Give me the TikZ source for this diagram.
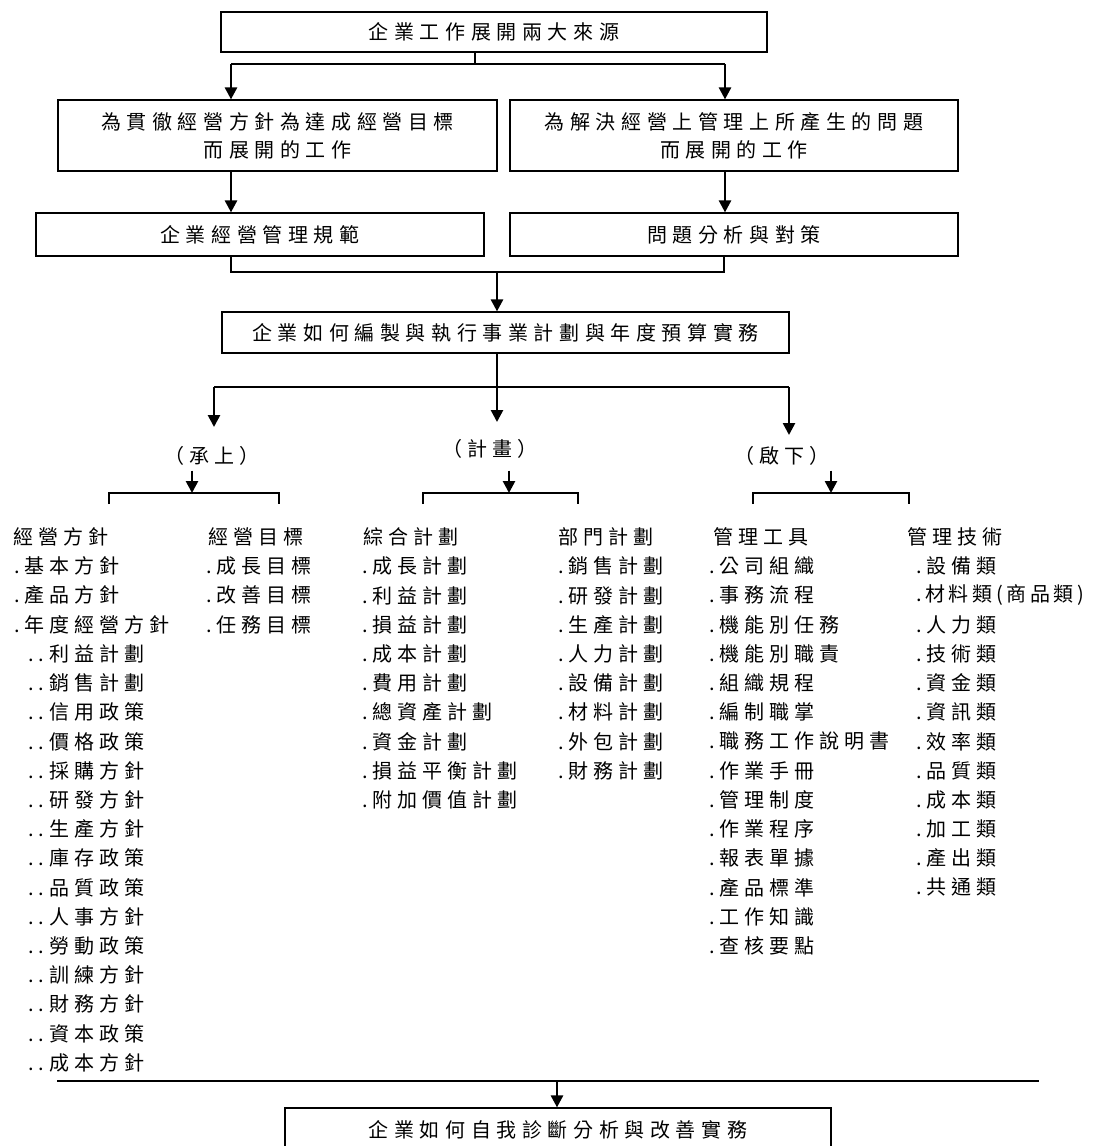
\documentclass[tikz,border=0pt]{standalone}
\usepackage{fontspec}
\newfontfamily\boxfont[LetterSpace=28]{Noto Sans CJK TC}
\newfontfamily\listfont[LetterSpace=25]{Noto Sans CJK TC}
\newfontfamily\tightfont[LetterSpace=18]{Noto Sans CJK TC}
\newcommand\itemdot{.\kern5pt}
\usetikzlibrary{arrows.meta}

\begin{document}
\begin{tikzpicture}[
    x=1pt, y=-1pt,
    flowbox/.style={draw=black, line width=1.2pt, inner sep=0pt, align=center,
        font=\boxfont\fontsize{20}{28}\selectfont},
    tag/.style={inner sep=0pt, font=\listfont\fontsize{20}{20}\selectfont},
    entry/.style={anchor=west, inner sep=0pt, font=\listfont\fontsize{20}{20}\selectfont},
    link/.style={draw=black, line width=1.2pt},
    arr/.style={draw=black, line width=2.6pt, -{Triangle[width=12pt,length=12pt]}}
    ]
        \useasboundingbox (0,0) rectangle (1094,1146);

        %Boxes
        \node[flowbox, minimum width=546, minimum height=40]
            (src)   at (494,32)     {企業工作展開兩大來源};
        \node[flowbox, minimum width=439, minimum height=71]
            (goal)  at (277.5,135.5) {為貫徹經營方針為達成經營目標\\而展開的工作};
        \node[flowbox, minimum width=448, minimum height=71]
            (prob)  at (734,135.5)  {為解決經營上管理上所產生的問題\\而展開的工作};
        \node[flowbox, minimum width=448, minimum height=43]
            (norm)  at (260,234.5)  {企業經營管理規範};
        \node[flowbox, minimum width=448, minimum height=43]
            (solve) at (734,234.5)  {問題分析與對策};
        \node[flowbox, minimum width=567, minimum height=41]
            (plan)  at (505.5,332.5) {企業如何編製與執行事業計劃與年度預算實務};
        \node[flowbox, minimum width=546, minimum height=44]
            (diag)  at (558,1130)   {企業如何自我診斷分析與改善實務};

        %Tags
        \node[tag] (up)   at (212,456) {（承上）};
        \node[tag] (mid)  at (490,449) {（計畫）};
        \node[tag] (down) at (782,456) {（啟下）};

        %Joints
        \coordinate (fork)  at (475,64);
        \coordinate (forkl) at (231,64);
        \coordinate (forkr) at (725,64);
        \coordinate (joinl) at (231,272);
        \coordinate (joinr) at (724,272);
        \coordinate (joinm) at (497,272);
        \coordinate (splitl) at (214,387);
        \coordinate (splitr) at (789,387);
        \coordinate (splitm) at (497,387);
        \coordinate (bl) at (192,493);
        \coordinate (bm) at (509,493);
        \coordinate (br) at (831,493);
        \coordinate (endl) at (57,1081);
        \coordinate (endr) at (1039,1081);
        \coordinate (endm) at (557,1081);

        %Lines
        \draw[link] (src.south -| fork) -- (fork);
        \draw[link] (forkl) -- (forkr);
        \draw[arr] (forkl) -- (forkl |- goal.north);
        \draw[arr] (forkr) -- (forkr |- prob.north);
        \draw[arr] (goal.south -| forkl) -- (norm.north -| forkl);
        \draw[arr] (prob.south -| forkr) -- (solve.north -| forkr);
        \draw[link] (norm.south -| joinl) -- (joinl) -- (joinr) -- (solve.south -| joinr);
        \draw[arr] (joinm) -- (plan.north -| joinm);
        \draw[link] (splitl) -- (splitr);
        \draw[line width=2.6pt] (plan.south -| splitm) -- (splitm);
        \draw[arr] (splitl) -- ++(0,40);
        \draw[arr] (splitm) -- ++(0,35);
        \draw[arr] (splitr) -- ++(0,48);
        \draw[arr] (up.south -| bl) ++(0,5) -- (bl);
        \draw[arr] (mid.south -| bm) ++(0,12) -- (bm);
        \draw[arr] (down.south -| br) ++(0,5) -- (br);
        \draw[link] (109,504) -- (109,493) -- (279,493) -- (279,504);
        \draw[link] (423,504) -- (423,493) -- (578,493) -- (578,504);
        \draw[link] (753,504) -- (753,493) -- (909,493) -- (909,504);
        \draw[link] (endl) -- (endr);
        \draw[arr] (endm) -- (diag.north -| endm);

        %Lists
        \foreach \xx/\txt [count=\i from 0] in {13/經營方針, 14/\itemdot 基本方針,
            14/\itemdot 產品方針, 14/\itemdot 年度經營方針, 28/.\itemdot 利益計劃,
            28/.\itemdot 銷售計劃, 28/.\itemdot 信用政策, 28/.\itemdot 價格政策,
            28/.\itemdot 採購方針, 28/.\itemdot 研發方針, 28/.\itemdot 生產方針,
            28/.\itemdot 庫存政策, 28/.\itemdot 品質政策, 28/.\itemdot 人事方針,
            28/.\itemdot 勞動政策, 28/.\itemdot 訓練方針, 28/.\itemdot 財務方針,
            28/.\itemdot 資本政策, 28/.\itemdot 成本方針}
            \node[entry] (jf\i) at (\xx,{537+29.2*\i}) {\txt};
        \foreach \xx/\txt [count=\i from 0] in {208/經營目標, 206/\itemdot 成長目標,
            206/\itemdot 改善目標, 206/\itemdot 任務目標}
            \node[entry] (jm\i) at (\xx,{537+29.2*\i}) {\txt};
        \foreach \xx/\txt [count=\i from 0] in {363/綜合計劃, 362/\itemdot 成長計劃,
            362/\itemdot 利益計劃, 362/\itemdot 損益計劃, 362/\itemdot 成本計劃,
            362/\itemdot 費用計劃, 362/\itemdot 總資產計劃, 362/\itemdot 資金計劃,
            362/\itemdot 損益平衡計劃, 362/\itemdot 附加價值計劃}
            \node[entry] (zh\i) at (\xx,{537+29.2*\i}) {\txt};
        \foreach \xx/\txt [count=\i from 0] in {558/部門計劃, 558/\itemdot 銷售計劃,
            558/\itemdot 研發計劃, 558/\itemdot 生產計劃, 558/\itemdot 人力計劃,
            558/\itemdot 設備計劃, 558/\itemdot 材料計劃, 558/\itemdot 外包計劃,
            558/\itemdot 財務計劃}
            \node[entry] (bu\i) at (\xx,{537+29.2*\i}) {\txt};
        \foreach \xx/\txt [count=\i from 0] in {713/管理工具, 709/\itemdot 公司組織,
            709/\itemdot 事務流程, 709/\itemdot 機能別任務, 709/\itemdot 機能別職責,
            709/\itemdot 組織規程, 709/\itemdot 編制職掌, 709/\itemdot 職務工作說明書,
            709/\itemdot 作業手冊, 709/\itemdot 管理制度, 709/\itemdot 作業程序,
            709/\itemdot 報表單據, 709/\itemdot 產品標準, 709/\itemdot 工作知識,
            709/\itemdot 查核要點}
            \node[entry] (gj\i) at (\xx,{537+29.2*\i}) {\txt};
        \foreach \xx/\txt [count=\i from 0] in {907/管理技術, 916/\itemdot 設備類,
            916/{\tightfont.材料類(商品類)}, 916/\itemdot 人力類, 916/\itemdot 技術類,
            916/\itemdot 資金類, 916/\itemdot 資訊類, 916/\itemdot 效率類,
            916/\itemdot 品質類, 916/\itemdot 成本類, 916/\itemdot 加工類,
            916/\itemdot 產出類, 916/\itemdot 共通類}
            \node[entry] (gs\i) at (\xx,{537+29.2*\i}) {\txt};
    \end{tikzpicture}
\end{document}
